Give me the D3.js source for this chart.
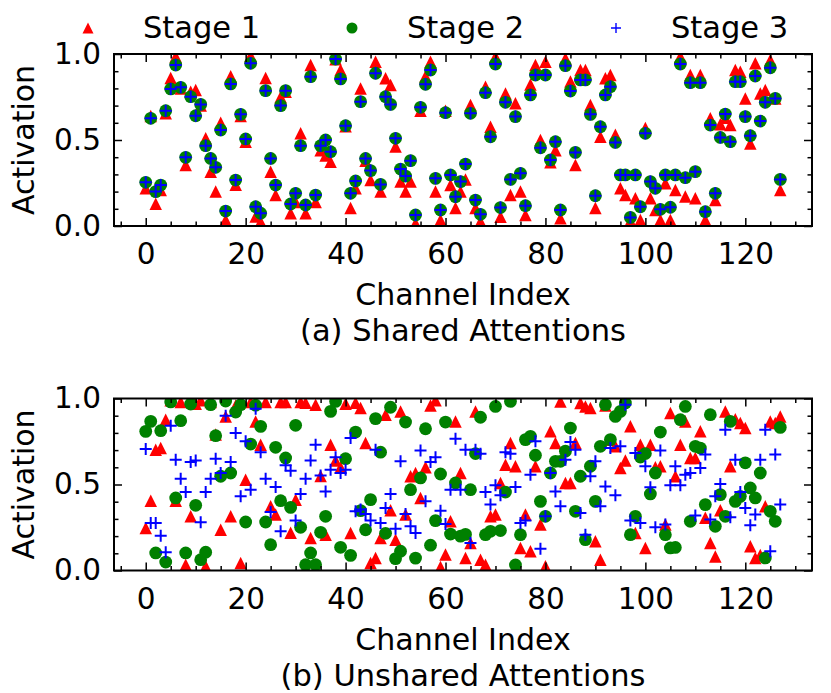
<!DOCTYPE html>
<html><head><meta charset="utf-8">
<script src="https://cdn.jsdelivr.net/npm/d3@7"></script>
<style>
body{margin:0;background:#fff}
svg{display:block}
text{font-family:"DejaVu Sans",sans-serif;fill:#000}
</style>
</head><body>
<svg id="chart" width="831" height="693"></svg>
<script>
// ---------- data ----------
const channels = d3.range(128);
const sharedStage1 = [0.22,0.64,0.13,0.21,0.655,0.86,0.985,0.80,0.355,0.78,0.79,0.70,0.51,0.316,0.20,0.60,0.035,0.87,0.24,0.64,
0.49,0.99,0.055,0.025,0.86,0.316,0.18,0.75,0.78,0.074,0.14,0.539,0.074,0.936,0.14,0.44,0.41,0.374,0.97,0.907,
0.58,0.104,0.22,0.80,0.38,0.267,0.955,0.20,0.859,0.82,0.462,0.258,0.20,0.258,0.016,0.67,0.87,0.955,0.20,0.035,
0.67,0.238,0.104,0.20,0.27,0.703,0.104,0.026,0.81,0.577,0.985,0.054,0.771,0.18,0.713,0.20,0.064,0.823,0.936,0.50,
0.955,0.37,0.44,0.045,0.974,0.84,0.355,0.907,0.907,0.703,0.104,0.519,0.859,0.878,0.53,0.219,0.18,0.03,0.161,0.035,
0.57,0.161,0.093,0.035,0.248,0.035,0.21,0.985,0.171,0.878,0.161,0.878,0.035,0.626,0.151,0.592,0.63,0.587,0.907,0.897,
0.742,0.48,0.946,0.771,0.79,0.965,0.742,0.21];
const sharedStage2 = [0.254,0.626,0.20,0.238,0.67,0.797,0.936,0.806,0.399,0.752,0.641,0.707,0.467,0.393,0.341,0.558,0.087,0.826,0.267,0.649,
0.506,0.946,0.112,0.074,0.787,0.393,0.238,0.70,0.787,0.128,0.19,0.467,0.122,0.868,0.18,0.467,0.50,0.432,0.971,0.855,
0.583,0.19,0.262,0.723,0.393,0.322,0.888,0.242,0.752,0.707,0.51,0.331,0.29,0.38,0.064,0.69,0.824,0.907,0.277,0.093,
0.659,0.297,0.17,0.258,0.36,0.655,0.151,0.068,0.775,0.519,0.942,0.107,0.719,0.271,0.636,0.306,0.118,0.762,0.878,0.455,
0.878,0.384,0.49,0.093,0.932,0.785,0.428,0.849,0.849,0.649,0.176,0.577,0.762,0.81,0.486,0.297,0.297,0.05,0.297,0.112,
0.539,0.258,0.219,0.097,0.297,0.109,0.297,0.942,0.281,0.833,0.316,0.833,0.083,0.587,0.19,0.515,0.651,0.49,0.839,0.839,
0.636,0.525,0.872,0.61,0.719,0.92,0.742,0.271];
const sharedStage3 = [0.254,0.626,0.20,0.238,0.67,0.797,0.936,0.806,0.399,0.752,0.641,0.707,0.467,0.393,0.341,0.558,0.087,0.826,0.267,0.649,
0.506,0.946,0.112,0.074,0.787,0.393,0.238,0.70,0.787,0.128,0.19,0.467,0.122,0.868,0.18,0.467,0.50,0.432,0.971,0.855,
0.583,0.19,0.262,0.723,0.393,0.322,0.888,0.242,0.752,0.707,0.51,0.331,0.29,0.38,0.064,0.69,0.824,0.907,0.277,0.093,
0.659,0.297,0.17,0.258,0.36,0.655,0.151,0.068,0.775,0.519,0.942,0.107,0.719,0.271,0.636,0.306,0.118,0.762,0.878,0.455,
0.878,0.384,0.49,0.093,0.932,0.785,0.428,0.849,0.849,0.649,0.176,0.577,0.762,0.81,0.486,0.297,0.297,0.05,0.297,0.112,
0.539,0.258,0.219,0.097,0.297,0.109,0.297,0.942,0.281,0.833,0.316,0.833,0.083,0.587,0.19,0.515,0.651,0.49,0.839,0.839,
0.636,0.525,0.872,0.61,0.719,0.92,0.742,0.271];
const unsharedStage1 = [0.247,0.406,0.702,0.712,0.877,0.99,0.406,0.98,0.034,0.315,0.97,0.99,0.024,0.98,0.79,0.237,0.896,0.315,0.96,0.044,
0.528,0.98,0.867,0.731,0.98,0.373,0.325,0.98,0.98,0.22,0.412,0.98,0.975,0.189,0.964,0.55,0.208,0.731,0.64,0.60,
0.97,0.218,0.975,0.945,0.741,0.044,0.073,0.189,0.906,0.35,0.179,0.925,0.325,0.548,0.567,0.422,0.60,0.96,0.99,0.02,
0.093,0.286,0.867,0.567,0.073,0.16,0.925,0.063,0.034,0.315,0.325,0.509,0.615,0.741,0.606,0.131,0.325,0.112,0.606,0.267,
0.024,0.809,0.741,0.983,0.509,0.509,0.741,0.974,0.954,0.945,0.17,0.063,0.96,0.76,0.722,0.596,0.64,0.838,0.218,0.731,
0.131,0.731,0.60,0.606,0.267,0.916,0.548,0.731,0.867,0.654,0.654,0.809,0.306,0.16,0.082,0.35,0.925,0.606,0.88,0.857,
0.828,0.141,0.073,0.09,0.373,0.867,0.857,0.896];
const unsharedStage2 = [0.809,0.867,0.102,0.813,0.049,0.98,0.422,0.871,0.102,0.968,0.379,0.063,0.106,0.964,0.784,0.548,0.985,0.567,0.921,0.964,
0.282,0.735,0.961,0.838,0.282,0.15,0.716,0.406,0.654,0.367,0.844,0.251,0.034,0.102,0.034,0.222,0.315,0.925,0.983,0.135,
0.65,0.088,0.805,0.348,0.237,0.412,0.883,0.688,0.216,0.949,0.069,0.112,0.863,0.47,0.072,0.538,0.824,0.147,0.29,0.561,
0.863,0.212,0.509,0.20,0.21,0.47,0.68,0.891,0.208,0.228,0.954,0.232,0.456,0.983,0.032,0.208,0.761,0.78,0.67,0.402,
0.315,0.567,0.635,0.635,0.694,0.828,0.344,0.548,0.179,0.606,0.402,0.722,0.964,0.761,0.896,0.925,0.974,0.208,0.315,0.66,
0.68,0.445,0.567,0.805,0.208,0.131,0.134,0.877,0.954,0.286,0.722,0.712,0.383,0.906,0.257,0.441,0.315,0.867,0.402,0.431,
0.626,0.48,0.422,0.567,0.073,0.344,0.286,0.832];
const unsharedStage3 = [0.706,0.276,0.276,0.202,0.106,0.842,0.644,0.534,0.456,0.631,0.639,0.28,0.456,0.534,0.65,0.567,0.90,0.631,0.80,0.431,
0.751,0.47,0.941,0.687,0.534,0.34,0.485,0.228,0.612,0.58,0.29,0.445,0.534,0.639,0.731,0.553,0.46,0.586,0.658,0.567,
0.586,0.77,0.344,0.354,0.329,0.29,0.702,0.276,0.363,0.445,0.243,0.635,0.329,0.257,0.218,0.697,0.402,0.631,0.658,0.348,
0.27,0.47,0.766,0.47,0.702,0.16,0.702,0.679,0.456,0.383,0.495,0.437,0.688,0.679,0.485,0.276,0.29,0.557,0.751,0.127,
0.315,0.567,0.46,0.373,0.644,0.747,0.702,0.334,0.208,0.548,0.635,0.373,0.489,0.712,0.437,0.722,0.964,0.29,0.683,0.276,
0.606,0.484,0.251,0.697,0.267,0.495,0.606,0.495,0.557,0.567,0.32,0.596,0.674,0.296,0.431,0.503,0.819,0.309,0.644,0.456,
0.363,0.263,0.325,0.644,0.819,0.112,0.674,0.383];
const xTickValues = [0,20,40,60,80,100,120];
const yTickValues = [0,0.5,1.0];
const legendLabels = ["Stage 1","Stage 2","Stage 3"];
const captions = ["(a) Shared Attentions","(b) Unshared Attentions"];
const xLabel = "Channel Index";
const yLabel = "Activation";

// ---------- layout ----------
const svg = d3.select("#chart");
const L = 114, R = 812;
const FS_TICK = 29.5, FS_LABEL = 30, FS_CAP = 30.5, FS_LEG = 30.5;
const RED = "#ff0000", GREEN = "#008000", BLUE = "#0000ff";
const triPath = s => `M0,${-s/2}L${s/2},${s/2}L${-s/2},${s/2}Z`;
const plusPath = s => `M${-s/2},0H${s/2}M0,${-s/2}V${s/2}`;

const panels = [
  {top:54, bottom:226, s1:sharedStage1, s2:sharedStage2, s3:sharedStage3, caption:captions[0]},
  {top:398.5, bottom:570.5, s1:unsharedStage1, s2:unsharedStage2, s3:unsharedStage3, caption:captions[1]}
];

const x = d3.scaleLinear().domain([-6.35,133.35]).range([L,R]);
const xMinor = d3.range(-5,134,5).filter(v => v % 20 !== 0);
const yMinorVals = [0.1,0.2,0.3,0.4,0.6,0.7,0.8,0.9];

panels.forEach(p => {
  const y = d3.scaleLinear().domain([0,1]).range([p.bottom,p.top]);
  const g = svg.append("g");
  const clipId = "clip" + Math.round(p.top);
  svg.append("clipPath").attr("id",clipId).append("rect")
    .attr("x",L).attr("y",p.top).attr("width",R-L).attr("height",p.bottom-p.top);
  const marks = g.append("g").attr("clip-path",`url(#${clipId})`);

  marks.selectAll("path.t").data(channels).join("path").attr("class","t")
    .attr("d",triPath(12.5)).attr("fill",RED)
    .attr("transform",i => `translate(${x(i)},${y(p.s1[i])})`);
  marks.selectAll("circle").data(channels).join("circle")
    .attr("cx",i => x(i)).attr("cy",i => y(p.s2[i])).attr("r",6.4).attr("fill",GREEN);
  marks.selectAll("path.p").data(channels).join("path").attr("class","p")
    .attr("d",plusPath(12)).attr("stroke",BLUE).attr("stroke-width",2).attr("fill","none")
    .attr("transform",i => `translate(${x(i)},${y(p.s3[i])})`);

  const styleAxis = (sel, labels) => {
    sel.select(".domain").remove();
    sel.selectAll(".tick line").attr("stroke","#000").attr("stroke-width",1.5);
    sel.selectAll(".tick text").style("font-size",FS_TICK+"px").style("font-family","DejaVu Sans").attr("fill","#000");
    if(!labels) sel.selectAll(".tick text").remove();
  };
  // major ticks (inward, all four sides)
  g.append("g").attr("transform",`translate(0,${p.bottom})`)
    .call(d3.axisBottom(x).tickValues(xTickValues).tickSize(-8).tickPadding(17.5).tickFormat(d3.format("d")))
    .call(s => styleAxis(s,true));
  g.append("g").attr("transform",`translate(0,${p.top})`)
    .call(d3.axisTop(x).tickValues(xTickValues).tickSize(-8))
    .call(s => styleAxis(s,false));
  g.append("g").attr("transform",`translate(${L},0)`)
    .call(d3.axisLeft(y).tickValues(yTickValues).tickSize(-8).tickPadding(13).tickFormat(d3.format(".1f")))
    .call(s => styleAxis(s,true));
  g.append("g").attr("transform",`translate(${R},0)`)
    .call(d3.axisRight(y).tickValues(yTickValues).tickSize(-8))
    .call(s => styleAxis(s,false));
  // minor ticks
  g.append("g").attr("transform",`translate(0,${p.bottom})`)
    .call(d3.axisBottom(x).tickValues(xMinor).tickSize(-4.5)).call(s => styleAxis(s,false));
  g.append("g").attr("transform",`translate(0,${p.top})`)
    .call(d3.axisTop(x).tickValues(xMinor).tickSize(-4.5)).call(s => styleAxis(s,false));
  g.append("g").attr("transform",`translate(${L},0)`)
    .call(d3.axisLeft(y).tickValues(yMinorVals).tickSize(-4.5)).call(s => styleAxis(s,false));
  g.append("g").attr("transform",`translate(${R},0)`)
    .call(d3.axisRight(y).tickValues(yMinorVals).tickSize(-4.5)).call(s => styleAxis(s,false));

  g.append("rect").attr("x",L).attr("y",p.top).attr("width",R-L).attr("height",p.bottom-p.top)
    .attr("fill","none").attr("stroke","#000").attr("stroke-width",2);

  g.append("text").attr("transform",`translate(33.5,${(p.top+p.bottom)/2}) rotate(-90)`)
    .attr("text-anchor","middle").style("font-size",FS_LABEL+"px").text(yLabel);
  g.append("text").attr("x",(L+R)/2).attr("y",p.bottom+79).attr("text-anchor","middle")
    .style("font-size",FS_LABEL+"px").text(xLabel);
  g.append("text").attr("x",(L+R)/2).attr("y",p.bottom+115).attr("text-anchor","middle")
    .style("font-size",FS_CAP+"px").text(p.caption);
});

// ---------- legend ----------
const leg = svg.append("g");
const legendItems = [
  {label:legendLabels[0], mx:88, tx:143, kind:"tri"},
  {label:legendLabels[1], mx:352, tx:407, kind:"circle"},
  {label:legendLabels[2], mx:616, tx:671, kind:"plus"}
];
legendItems.forEach(d => {
  if(d.kind==="tri") leg.append("path").attr("d",triPath(11)).attr("fill",RED).attr("transform",`translate(${d.mx},28)`);
  if(d.kind==="circle") leg.append("circle").attr("cx",d.mx).attr("cy",28).attr("r",5.5).attr("fill",GREEN);
  if(d.kind==="plus") leg.append("path").attr("d",plusPath(10)).attr("stroke",BLUE).attr("stroke-width",1.4).attr("fill","none").attr("transform",`translate(${d.mx},28)`);
  leg.append("text").attr("x",d.tx).attr("y",38).style("font-size",FS_LEG+"px").text(d.label);
});
</script>
</body></html>
